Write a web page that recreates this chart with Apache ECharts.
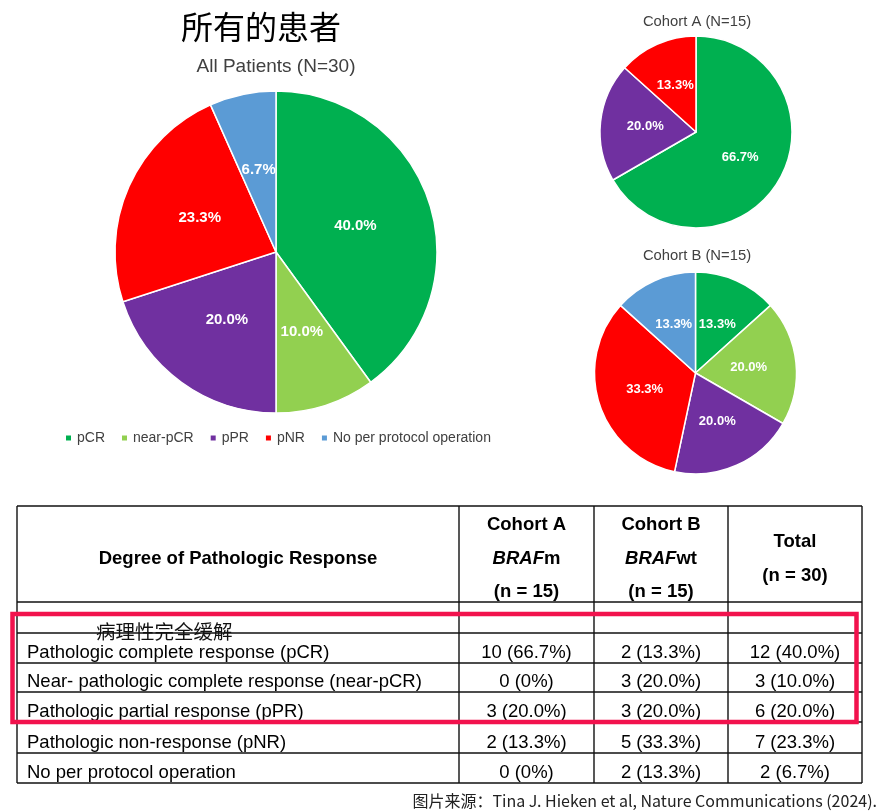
<!DOCTYPE html>
<html>
<head>
<meta charset="utf-8">
<script src="https://cdn.jsdelivr.net/npm/echarts@6/dist/echarts.min.js"></script>
<style>
html,body{margin:0;padding:0;background:#fff;}
#chart{width:878px;height:812px;}
</style>
</head>
<body>
<div id="chart"></div>
<script>
// ---- data ----
const categories = ['pCR', 'near-pCR', 'pPR', 'pNR', 'No per protocol operation'];
const colors = ['#00B050', '#92D050', '#7030A0', '#FF0000', '#5B9BD5'];
const allCounts = [12, 3, 6, 7, 2];
const cohortACounts = [10, 0, 3, 2, 0];
const cohortBCounts = [2, 3, 3, 5, 2];
const nAll = 30, nA = 15, nB = 15;
const rowLabels = [
  'Pathologic complete response (pCR)',
  'Near- pathologic complete response (near-pCR)',
  'Pathologic partial response (pPR)',
  'Pathologic non-response (pNR)',
  'No per protocol operation'
];
const mainTitle = '所有的患者';
const pieTitles = ['All Patients (N=30)', 'Cohort A (N=15)', 'Cohort B (N=15)'];
const zhRowNote = '病理性完全缓解';
const caption = '图片来源：Tina J. Hieken et al, Nature Communications (2024).';

// ---- helpers ----
const SANS = '"Liberation Sans", Arial, sans-serif';
const CJK = '"Noto Sans CJK SC", sans-serif';
function pct(c, n) { return c === 0 ? '0' : (c / n * 100).toFixed(1); }
function pieData(counts) {
  return counts.map((v, i) => ({ name: categories[i], value: v, itemStyle: { color: colors[i] } }))
               .filter(d => d.value > 0);
}
function pieSeries(counts, n, cx, cy, r, fs) {
  return {
    type: 'pie', center: [cx, cy], radius: r, startAngle: 90, clockwise: true,
    avoidLabelOverlap: false, silent: true,
    itemStyle: { borderColor: '#fff', borderWidth: 1.5 },
    label: {
      show: true, position: 'inside', color: '#fff', fontWeight: 'bold',
      fontSize: fs, fontFamily: SANS,
      formatter: p => pct(p.value, n) + '%'
    },
    labelLine: { show: false },
    data: pieData(counts)
  };
}

// ---- table graphics ----
const colX = [17, 459, 594, 728, 862];
const rowY = [506, 602, 633, 663, 692, 722, 753, 783];
const g = [];
function line(x1, y1, x2, y2) {
  g.push({ type: 'line', shape: { x1, y1, x2, y2 }, style: { stroke: '#111', lineWidth: 1.4 }, silent: true });
}
function text(t, x, y, o) {
  g.push({ type: 'text', x, y, silent: true,
    style: Object.assign({ text: t, align: 'center', verticalAlign: 'middle', fill: '#000', font: '18.5px ' + SANS }, o || {}) });
}
rowY.forEach(y => line(colX[0], y, colX[4], y));
colX.forEach(x => line(x, rowY[0], x, rowY[rowY.length - 1]));

// header
const HB = 'bold 18.5px ' + SANS;
text('Degree of Pathologic Response', (colX[0] + colX[1]) / 2, 559, { font: HB });
const cohortHead = [['Cohort A', 'm', nA], ['Cohort B', 'wt', nB]];
cohortHead.forEach((h, i) => {
  const cx = (colX[i + 1] + colX[i + 2]) / 2;
  text(h[0], cx, 525, { font: HB });
  g.push({ type: 'text', x: cx, y: 559, silent: true, style: {
    text: '{i|BRAF}{b|' + h[1] + '}', align: 'center', verticalAlign: 'middle',
    rich: { i: { font: 'italic bold 18.5px ' + SANS, fill: '#000' }, b: { font: HB, fill: '#000' } } } });
  text('(n = ' + h[2] + ')', cx, 592, { font: HB });
});
const tcx = (colX[3] + colX[4]) / 2;
text('Total', tcx, 542, { font: HB });
text('(n = ' + nAll + ')', tcx, 576, { font: HB });

// body
text(zhRowNote, 96, 632, { align: 'left', font: '19.5px ' + CJK, fill: '#111' });
rowLabels.forEach((lab, i) => {
  const yb = rowY[i + 3] - 10;
  text(lab, 27, yb, { align: 'left' });
  const vals = [[cohortACounts[i], nA], [cohortBCounts[i], nB], [allCounts[i], nAll]];
  vals.forEach((v, j) => {
    text(v[0] + ' (' + pct(v[0], v[1]) + '%)', (colX[j + 1] + colX[j + 2]) / 2, yb);
  });
});

// highlight box
g.push({ type: 'rect', silent: true, shape: { x: 12.5, y: 614, width: 844, height: 108 },
  style: { fill: 'none', stroke: '#F2124D', lineWidth: 4.5 } });

// titles & caption
text(mainTitle, 261, 27, { font: '32px ' + CJK });
text(pieTitles[0], 276, 67, { font: '19px ' + SANS, fill: '#404040' });
text(pieTitles[1], 697, 22, { font: '14.8px ' + SANS, fill: '#404040' });
text(pieTitles[2], 697, 256, { font: '14.8px ' + SANS, fill: '#404040' });
text(caption, 877, 801, { align: 'right', font: '16px ' + CJK, fill: '#222' });

const chart = echarts.init(document.getElementById('chart'), null, { renderer: 'canvas' });
chart.setOption({
  animation: false,
  backgroundColor: '#fff',
  legend: {
    data: categories, left: 64, top: 431, padding: 0, icon: 'rect', itemWidth: 7, itemHeight: 7, itemGap: 15,
    selectedMode: false,
    textStyle: { fontSize: 14, color: '#404040', fontFamily: SANS }
  },
  series: [
    pieSeries(allCounts, nAll, 276, 252, 161, 15),
    pieSeries(cohortACounts, nA, 696, 132, 96, 13),
    pieSeries(cohortBCounts, nB, 695.5, 373, 101, 13)
  ],
  graphic: g
});
</script>
</body>
</html>
